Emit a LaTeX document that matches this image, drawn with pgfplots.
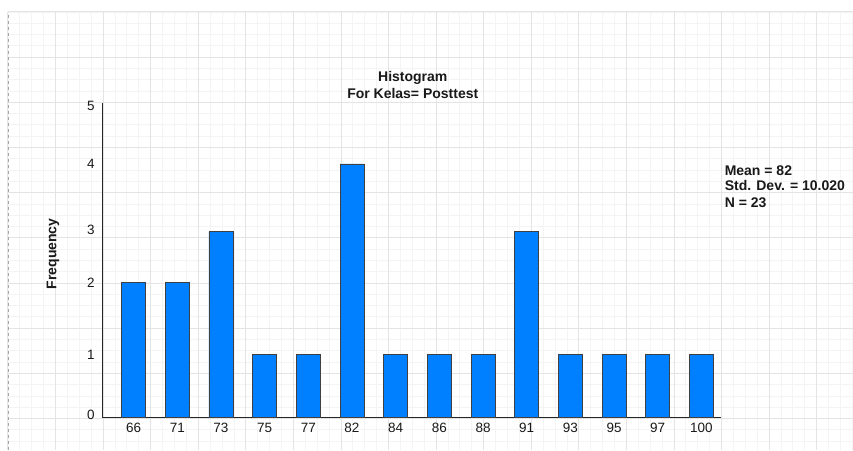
\documentclass[border=0pt]{standalone}
\usepackage{pgfplots}
\pgfplotsset{compat=1.18}
\usepackage{fontspec}
\setmainfont{Liberation Sans}
\definecolor{barblue}{RGB}{0,128,255}
\definecolor{gridmajor}{RGB}{228,228,228}
\definecolor{gridminor}{RGB}{244,244,244}
\definecolor{txt}{RGB}{25,25,25}

\begin{document}
\begin{tikzpicture}[x=1pt,y=1pt]
% page background with the editor grid
\fill[white] (0,0) rectangle (853,450);
\foreach \k in {0,...,71} {
  \draw[gridminor,line width=0.9pt] ({8+\k*11.9},0) -- ({8+\k*11.9},438);
}
\foreach \k in {0,...,38} {
  \draw[gridminor,line width=0.9pt] (8,{438-\k*11.3}) -- (853,{438-\k*11.3});
}
\foreach \k in {0,...,17} {
  \draw[gridmajor,line width=1pt] ({8+\k*47.6},0) -- ({8+\k*47.6},438);
}
\foreach \k in {0,...,9} {
  \draw[gridmajor,line width=1pt] (8,{438-\k*45.2}) -- (853,{438-\k*45.2});
}
\draw[black!35,dashed,line width=0.8pt] (8,0) -- (8,438);

\begin{axis}[
  at={(103pt,32pt)}, anchor=south west,
  scale only axis, width=618pt, height=315pt,
  xmin=-0.703, xmax=13.44,
  ymin=0, ymax=5.0517,
  % the frequency scale of the original is not evenly spaced
  y coord trafo/.code={\pgfmathparse{#1<=1 ? 63*#1 : (#1<=2 ? 63+72*(#1-1) : (#1<=3 ? 135+51*(#1-2) : (#1<=4 ? 186+68*(#1-3) : 254+58*(#1-4))))}},
  axis x line*=bottom, axis y line*=left,
  axis line style={black!85,line width=0.9pt},
  xtick={0,...,13},
  xticklabels={66,71,73,75,77,82,84,86,88,91,93,95,97,100},
  ytick={0,1,2,3,4,5},
  yticklabels={\raisebox{6pt}{0},1,\raisebox{-4pt}{2},\raisebox{4pt}{3},4,5},
  major tick length=0pt,
  tick label style={font=\fontsize{13.5}{15}\selectfont, text=txt},
  xticklabel style={anchor=north, inner sep=0pt, yshift=-5pt},
  yticklabel style={anchor=east, inner sep=0pt, xshift=-8pt},
]
\addplot[ybar, bar width=24pt, fill=barblue, draw=black!75, line width=0.8pt]
  coordinates {
    (0,2) (1,2) (2,3) (3,1) (4,1) (5,4) (6,1)
    (7,1) (8,1) (9,3) (10,1) (11,1) (12,1) (13,1)
  };
\end{axis}

\node[anchor=base, text=txt, font=\fontsize{14}{16}\selectfont\bfseries] at (413,368.3) {Histogram};
\node[anchor=base, text=txt, font=\fontsize{14}{16}\selectfont\bfseries] at (413,351.7) {For Kelas= Posttest};
\node[rotate=90, text=txt, font=\fontsize{14}{16}\selectfont\bfseries] at (53,196) {Frequency};
\node[anchor=base west, inner sep=0pt, text=txt, font=\fontsize{14}{16}\selectfont\bfseries] at (725,274.7) {Mean = 82};
\node[anchor=base west, inner sep=0pt, text=txt, font=\fontsize{14}{16}\selectfont\bfseries] at (725,259.3) {Std. Dev. = 10.020};
\node[anchor=base west, inner sep=0pt, text=txt, font=\fontsize{14}{16}\selectfont\bfseries] at (725,242.3) {N = 23};
\end{tikzpicture}
\end{document}
